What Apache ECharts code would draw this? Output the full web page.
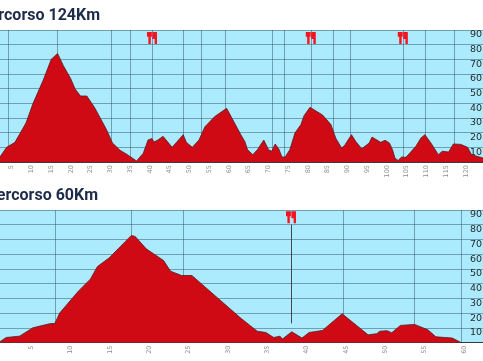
<!DOCTYPE html>
<html><head><meta charset="utf-8">
<style>html,body{margin:0;padding:0;background:#fff;overflow:hidden}#c{width:483px;height:361px}</style>
<script src="https://cdn.jsdelivr.net/npm/echarts@6/dist/echarts.min.js"></script>
</head><body><div id="c"></div>
<script>
const title1 = 'Percorso 124Km';
const title2 = 'Percorso 60Km';
const yTicks = [10,20,30,40,50,60,70,80,90];
const km1 = [2,3.7,5.8,8.6,10.4,13,15,16.6,18,19.9,21,22.4,24,26,29,30.5,32.4,34,36.6,38.3,39.5,40.5,41,42,43.3,45.6,48.4,49.2,50.7,52.4,53.9,56.4,59.4,63,64,64.7,66,67.2,68.8,70,70.8,71.7,72.7,73.4,74.2,75.4,76.7,78.2,79,80.5,83.7,85.8,87,88.5,89.3,91,92.1,93.6,95.5,96.2,98.4,99.5,100.6,101.4,102,102.8,103.7,104.8,107.3,108.6,109.6,111.1,113,114,115.6,116.8,118.7,120.4,121.4,124.3];
const ele1 = [3.4,10,13.4,26.6,40,56,70,74,66,57,50,45,45,37,22,13,8,5.5,0.7,6,15,16,13.6,15,17.5,10,18.6,13.4,10,15,24,31,36.6,18.6,14,8.4,5,8.4,15,8.4,7.3,12.3,8.4,3.4,3.4,8.4,19.8,25.5,31.6,37.3,32,25.5,16.4,9.5,11.4,18.6,14,9,13,17,13.4,14.8,13,8.4,2.7,1,3.4,3.2,10.7,16.4,18.6,13,5,7.3,6.8,12.3,12,10,5,2.7];
const vlines1 = [4,16.6,30.3,35,40.5,48.5,53,59,71,73.9,80.7,86.5,90.8,104,109.6,117];
const food1 = [40.5,80.7,104];
const km2 = [1,1.8,3.5,5.2,7.3,8,8.6,11,12.5,13.4,14.9,17.3,17.7,18.2,19.6,21.8,22.7,24.1,25.4,31.6,33.7,34.8,35.8,36.6,36.9,38.1,39.4,40.3,42,44.5,47.8,48.9,49.3,50.2,50.8,51.9,53.7,55.4,56.4,58.5,59.6];
const ele2 = [0.5,3.4,4.3,10,12.7,13,20,35,43,51.6,57.5,70.5,72.7,72,63.6,55.7,48.4,45.5,45.5,16.6,7.7,6.8,3.4,4.3,2.3,7.3,3,6.8,8.2,19.5,5.2,6,7.7,8,6.6,11.6,12.3,8.6,3.9,3,0];
const vlines2 = [8,17.7,24.3,44.6,53.6,59.6];
const food2 = [38];
const foodStem2 = [13,80];

const forkPath = 'path://M0 0H4.9V4.8H3.8V12H1.4V4.8H0ZM5.4 0H10V12H7.6V7H5.4Z';
const SKY='#abebfd', RED='#cf0a14', GRID='rgba(50,85,105,0.5)';

function pairs(a,b){return a.map((x,i)=>[x,b[i]]);}
function axisX(i,max){return {type:'value',gridIndex:i,min:0,max:max,interval:5,
  axisLine:{show:true,onZero:false,lineStyle:{color:'#333a40',width:1}},axisTick:{show:false},splitLine:{show:false},
  axisLabel:{rotate:90,fontSize:6.5,color:'#8c8c8c',margin:3,fontFamily:'DejaVu Sans',showMaxLabel:false,formatter:v=>v===0?'':v}};}
function axisY(i){return {type:'value',gridIndex:i,min:0,max:90,interval:10,position:'right',
  axisLine:{show:false},axisTick:{show:false},
  splitLine:{show:true,lineStyle:{color:GRID,width:1}},
  axisLabel:{inside:true,align:'right',verticalAlign:'top',margin:1,fontSize:9.5,color:'#2a2a2a',fontFamily:'DejaVu Sans',
    formatter:v=>yTicks.includes(v)?String(v):''}};}
function profile(i,km,ele,vl,food,foodY){
  return [
    {type:'line',xAxisIndex:i,yAxisIndex:i,z:1,data:[],silent:true,
     markLine:{z:1,silent:true,symbol:'none',label:{show:false},animation:false,
       lineStyle:{type:'solid',color:GRID,width:1},data:vl.map(v=>({xAxis:v}))}},
    {type:'line',xAxisIndex:i,yAxisIndex:i,z:3,data:pairs(km,ele),showSymbol:false,symbol:'none',animation:false,
     lineStyle:{color:'#5a1a22',width:0.8},areaStyle:{color:RED,opacity:1}},
    {type:'scatter',xAxisIndex:i,yAxisIndex:i,z:4,animation:false,data:food.map(f=>[f,foodY]),
     symbol:forkPath,symbolSize:[10,12],itemStyle:{color:'#f5131f',opacity:1}}
  ];
}
const chart = echarts.init(document.getElementById('c'),null,{renderer:'canvas'});
const s1 = profile(0,km1,ele1,vlines1,food1,84.5);
const s2 = profile(1,km2,ele2,vlines2,food2,85);
s2.push({type:'line',xAxisIndex:1,yAxisIndex:1,z:2,data:[],silent:true,
  markLine:{z:2,silent:true,symbol:'none',label:{show:false},animation:false,lineStyle:{type:'solid',color:'#3a4a50',width:1},
    data:[[{coord:[food2[0],foodStem2[1]]},{coord:[food2[0],foodStem2[0]]}]]}});
chart.setOption({
  animation:false,backgroundColor:'#fff',
  graphic:[
    {type:'text',x:100,y:8,style:{text:title1,align:'right',font:'bold 16px Roboto',fill:'#1d2b4a'}},
    {type:'text',x:98,y:188,style:{text:title2,align:'right',font:'bold 16px Roboto',fill:'#1d2b4a'}}
  ],
  grid:[
    {left:-8,right:0,top:30,height:132,backgroundColor:SKY,show:true,borderWidth:0,outerBoundsMode:'none'},
    {left:-8,right:0,top:210,height:132.5,backgroundColor:SKY,show:true,borderWidth:0,outerBoundsMode:'none'}
  ],
  xAxis:[axisX(0,124.3),axisX(1,62.4)],
  yAxis:[axisY(0),axisY(1)],
  series:s1.concat(s2)
});
</script></body></html>
